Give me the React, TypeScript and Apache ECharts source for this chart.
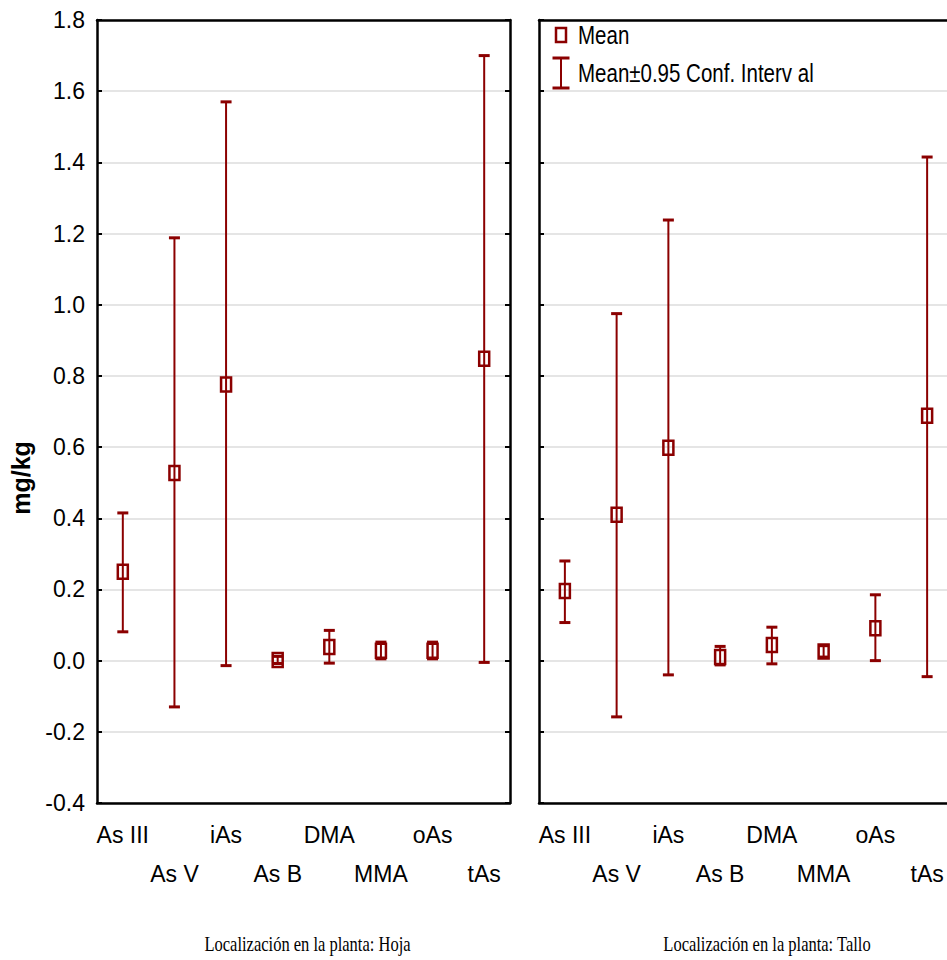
import React, { useEffect, useRef } from "react";
import * as echarts from "echarts";

const categories = ["As III", "As V", "iAs", "As B", "DMA", "MMA", "oAs", "tAs"];
// Hoja (leaf)
const hojaMean = [0.25, 0.527, 0.776, 0.002, 0.038, 0.028, 0.028, 0.848];
const hojaLow = [0.081, -0.13, -0.014, -0.008, -0.007, 0.005, 0.005, -0.005];
const hojaHigh = [0.415, 1.188, 1.57, 0.012, 0.085, 0.052, 0.052, 1.7];
// Tallo (stem)
const talloMean = [0.196, 0.41, 0.598, 0.01, 0.044, 0.026, 0.091, 0.688];
const talloLow = [0.107, -0.158, -0.04, -0.012, -0.009, 0.01, 0.0, -0.045];
const talloHigh = [0.28, 0.975, 1.238, 0.04, 0.094, 0.042, 0.185, 1.415];

const yTicks = [-0.4, -0.2, 0.0, 0.2, 0.4, 0.6, 0.8, 1.0, 1.2, 1.4, 1.6, 1.8];
const panelTitles = ["Localización en la planta: Hoja", "Localización en la planta: Tallo"];
const legendLabels = ["Mean", "Mean±0.95 Conf. Interv al"];

const RED = "#8b0000";
const SANS = "'Liberation Sans', Arial, sans-serif";

const GRID_TOP = 20;
const GRID_H = 783;
const GRIDS = [
  { left: 97, width: 413 },
  { left: 539, width: 414 },
];

function renderErr(params: any, api: any) {
  const x = api.value(0);
  const m = api.value(1);
  const lo = api.value(2);
  const hi = api.value(3);
  const pM = api.coord([x, m]);
  const pL = api.coord([x, lo]);
  const pH = api.coord([x, hi]);
  const cw = 5.5;
  return {
    type: "group",
    children: [
      { type: "line", shape: { x1: pL[0], y1: pL[1], x2: pH[0], y2: pH[1] }, style: { stroke: RED, lineWidth: 2 } },
      { type: "line", shape: { x1: pL[0] - cw, y1: pL[1], x2: pL[0] + cw, y2: pL[1] }, style: { stroke: RED, lineWidth: 3 } },
      { type: "line", shape: { x1: pH[0] - cw, y1: pH[1], x2: pH[0] + cw, y2: pH[1] }, style: { stroke: RED, lineWidth: 3 } },
      { type: "rect", shape: { x: pM[0] - 5, y: pM[1] - 7, width: 10, height: 14 }, style: { fill: "none", stroke: RED, lineWidth: 2.5 } },
    ],
  };
}

export default function App() {
  const ref = useRef<HTMLDivElement>(null);
  useEffect(() => {
    if (!ref.current) return;
    const chart = echarts.init(ref.current, undefined, { renderer: "svg" });

    const grid = GRIDS.map((g) => ({ left: g.left, width: g.width, top: GRID_TOP, height: GRID_H, containLabel: false }));

    const xAxis: any[] = [];
    const yAxis: any[] = [];
    GRIDS.forEach((_, gi) => {
      xAxis.push({
        type: "category",
        gridIndex: gi,
        position: "bottom",
        data: categories,
        boundaryGap: true,
        axisLine: { onZero: false, lineStyle: { color: "#000", width: 2.5 } },
        axisTick: { alignWithLabel: true, inside: true, length: 5, lineStyle: { color: "#000", width: 2 } },
        axisLabel: {
          interval: 0,
          hideOverlap: false,
          margin: 12,
          color: "#000",
          fontFamily: SANS,
          fontSize: 23,
          lineHeight: 39,
          verticalAlign: "top",
          formatter: (v: string, i: number) => (i % 2 === 1 ? "\n" + v : v),
        },
        splitLine: { show: false },
      });
      xAxis.push({
        type: "category",
        gridIndex: gi,
        position: "top",
        data: categories,
        boundaryGap: true,
        axisLine: { onZero: false, lineStyle: { color: "#000", width: 2.5 } },
        axisTick: { alignWithLabel: true, inside: true, length: 5, lineStyle: { color: "#000", width: 2 } },
        axisLabel: { show: false },
        splitLine: { show: false },
      });
      yAxis.push({
        type: "value",
        gridIndex: gi,
        position: "left",
        min: yTicks[0],
        max: yTicks[yTicks.length - 1],
        interval: 0.2,
        axisLine: { show: true, onZero: false, lineStyle: { color: "#000", width: 2.5 } },
        axisTick: { show: true, inside: true, length: 5, lineStyle: { color: "#000", width: 2 } },
        axisLabel: {
          show: gi === 0,
          margin: 12,
          color: "#000",
          fontFamily: SANS,
          fontSize: 23,
          formatter: (v: number) => v.toFixed(1),
        },
        splitLine: { show: true, lineStyle: { color: "#dcdcdc", width: 1.5 } },
      });
      yAxis.push({
        type: "value",
        gridIndex: gi,
        position: "right",
        min: yTicks[0],
        max: yTicks[yTicks.length - 1],
        interval: 0.2,
        axisLine: { show: true, onZero: false, lineStyle: { color: "#000", width: 2.5 } },
        axisTick: { show: true, inside: true, length: 5, lineStyle: { color: "#000", width: 2 } },
        axisLabel: { show: false },
        splitLine: { show: false },
      });
    });

    const hojaData = categories.map((_, i) => [i, hojaMean[i], hojaLow[i], hojaHigh[i]]);
    const talloData = categories.map((_, i) => [i, talloMean[i], talloLow[i], talloHigh[i]]);

    const titleY = 944;
    const titleFont = "22px 'Liberation Serif', 'Times New Roman', serif";
    const legendFont = "25px " + SANS;
    const graphic: any[] = [
      {
        type: "text",
        x: 21,
        y: 478,
        rotation: Math.PI / 2,
        style: {
          text: "mg/kg",
          font: "bold 25px " + SANS,
          fill: "#000",
          align: "center",
          verticalAlign: "middle",
        },
      },
      {
        type: "text",
        x: 307.5,
        y: titleY,
        scaleX: 0.75,
        style: { text: panelTitles[0], font: titleFont, fill: "#000", align: "center", verticalAlign: "middle" },
      },
      {
        type: "text",
        x: 767,
        y: titleY,
        scaleX: 0.75,
        style: { text: panelTitles[1], font: titleFont, fill: "#000", align: "center", verticalAlign: "middle" },
      },
      // legend
      { type: "rect", shape: { x: 556, y: 28, width: 10, height: 14 }, style: { fill: "none", stroke: RED, lineWidth: 2.5 } },
      {
        type: "text",
        x: 578,
        y: 35,
        scaleX: 0.82,
        style: { text: legendLabels[0], font: legendFont, fill: "#000", align: "left", verticalAlign: "middle" },
      },
      { type: "line", shape: { x1: 561, y1: 58, x2: 561, y2: 88 }, style: { stroke: RED, lineWidth: 2 } },
      { type: "line", shape: { x1: 552.5, y1: 58, x2: 569.5, y2: 58 }, style: { stroke: RED, lineWidth: 3 } },
      { type: "line", shape: { x1: 552.5, y1: 88, x2: 569.5, y2: 88 }, style: { stroke: RED, lineWidth: 3 } },
      {
        type: "text",
        x: 578,
        y: 73,
        scaleX: 0.82,
        style: { text: legendLabels[1], font: legendFont, fill: "#000", align: "left", verticalAlign: "middle" },
      },
    ];

    chart.setOption({
      animation: false,
      backgroundColor: "#fff",
      grid,
      xAxis,
      yAxis,
      series: [
        { type: "custom", name: "Hoja", xAxisIndex: 0, yAxisIndex: 0, data: hojaData, renderItem: renderErr, encode: { x: 0, y: [1, 2, 3] }, clip: false },
        { type: "custom", name: "Tallo", xAxisIndex: 2, yAxisIndex: 2, data: talloData, renderItem: renderErr, encode: { x: 0, y: [1, 2, 3] }, clip: false },
      ],
      graphic,
    });
    return () => chart.dispose();
  }, []);
  return (
    <div style={{ position: "absolute", left: 0, top: 0, width: 947, height: 960, overflow: "hidden" }}>
      <div ref={ref} style={{ width: 970, height: 960 }} />
    </div>
  );
}
